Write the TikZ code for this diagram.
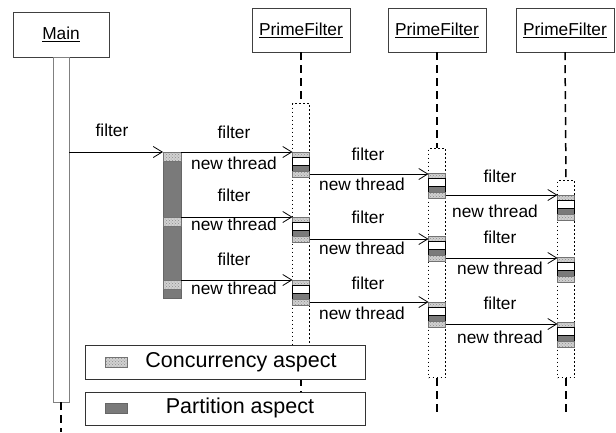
\documentclass[tikz,border=0pt]{standalone}
\usepackage{fontspec}
\setmainfont{Liberation Sans}
\usetikzlibrary{positioning,patterns,arrows.meta}

\begin{document}
\begin{tikzpicture}[x=1pt,y=-1pt,font=\fontsize{17.3}{20}\selectfont]
  \tikzstyle{obj}=[rectangle,draw=black!75,fill=white,minimum width=98pt,minimum height=44pt,inner sep=0pt]
  \tikzstyle{life}=[black,line width=1.5pt,dash pattern=on 8pt off 5pt]
  \tikzstyle{act}=[rectangle,draw,line width=1.4pt,dash pattern=on 1.4pt off 2.6pt,minimum width=17pt,inner sep=0pt,anchor=north]
  \tikzstyle{band}=[rectangle,minimum width=17pt,inner sep=0pt,outer sep=0pt]
  \tikzstyle{conc}=[band,draw=black!55,preaction={fill=black!18},pattern=crosshatch dots,pattern color=black!45]
  \tikzstyle{part}=[band,draw=black!60,fill=black!52]
  \tikzstyle{wband}=[band,draw=black,fill=white]
  \tikzstyle{msg}=[-{Straight Barb[length=9pt,width=11pt]},line width=0.8pt]

  \useasboundingbox (0,0) rectangle (616,432);

  \node[obj,minimum width=96pt,minimum height=45pt] (main) at (61,34.5) {\underline{Main}};
  \node[obj] (pf1) at (301,30) {\underline{PrimeFilter}};
  \node[obj] (pf2) at (437,30) {\underline{PrimeFilter}};
  \node[obj] (pf3) at (565,30) {\underline{PrimeFilter}};

  \node[band,draw=black!50,fill=white,minimum width=16pt,minimum height=345pt,anchor=north] (mainbar) at (61,57) {};
  \coordinate (mainend) at (61,432);
  \draw[life] (mainbar.south) -- (mainend);

  \node[act,minimum height=274pt] (a1) at (301,103) {};
  \node[act,minimum height=229pt] (a2) at (437,148) {};
  \node[act,minimum height=197pt] (a3) at (566,180) {};
  \coordinate (e1) at (301,412);
  \coordinate (e2) at (437,412);
  \coordinate (e3) at (566,412);
  \foreach \i in {1,2,3}{
    \draw[life] (pf\i.south) -- (a\i.north);
    \draw[life] (a\i.south) -- (e\i);
  }

  \node[part,minimum width=18pt,minimum height=146pt,anchor=north] (bar) at (172,152) {};
  \node[conc,minimum width=18pt,minimum height=9pt,anchor=north] (k1) at (172,152) {};
  \node[conc,minimum width=18pt,minimum height=9pt,anchor=north] (k2) at (172,217) {};
  \node[conc,minimum width=18pt,minimum height=9pt,anchor=north] (k3) at (172,280) {};

  \foreach \n/\x/\y in {s11/301/152,s12/301/217,s13/301/280,s21/437/173,s22/437/236,s23/437/302,s31/566/195,s32/566/257,s33/566/322}{
    \node[conc,minimum height=5pt,anchor=north] (\n-a) at (\x,\y) {};
    \node[wband,minimum height=8pt,below=0pt of \n-a] (\n-b) {};
    \node[part,draw=black,minimum height=6pt,below=0pt of \n-b] (\n-c) {};
    \node[conc,minimum height=6pt,below=0pt of \n-c] (\n-d) {};
  }

  \draw[msg] (k1.north west -| mainbar.east) -- (k1.north west);
  \foreach \r in {1,2,3}{
    \draw[msg] (k\r.north east) -- (k\r.north east -| s1\r-a.west);
    \draw[msg] (s1\r-d.east) -- (s1\r-d.east -| s2\r-a.west);
    \draw[msg] (s2\r-d.east) -- (s2\r-d.east -| s3\r-a.west);
  }

  \node (f0) at (112,130) {filter};
  \foreach \r/\fa/\ta/\fb/\tb/\fc/\xc/\tc in {1/132/163/154/184/176/495/211,2/195/224/217/248/237/500/268,3/259/288/283/313/303/500/337}{
    \node (fa\r) at (234,\fa) {filter};
    \node (ta\r) at (234,\ta) {new thread};
    \node (fb\r) at (368,\fb) {filter};
    \node (tb\r) at (362,\tb) {new thread};
    \node (fc\r) at (500,\fc) {filter};
    \node (tc\r) at (\xc,\tc) {new thread};
  }

  \node[rectangle,draw=black!80,fill=white,minimum width=280pt,minimum height=34pt] (lg1) at (225,362) {};
  \node[rectangle,draw=black!80,fill=white,minimum width=280pt,minimum height=33pt] (lg2) at (225,408.5) {};
  \node[conc,minimum width=22pt,minimum height=10pt] (q1) at (116,362) {};
  \node[part,minimum width=22pt,minimum height=10pt] (q2) at (116,408) {};
  \node[font=\fontsize{21.5}{24}\selectfont] (t1) at (241,362) {Concurrency aspect};
  \node[font=\fontsize{21.5}{24}\selectfont] (t2) at (240,408) {Partition aspect};
\end{tikzpicture}
\end{document}
